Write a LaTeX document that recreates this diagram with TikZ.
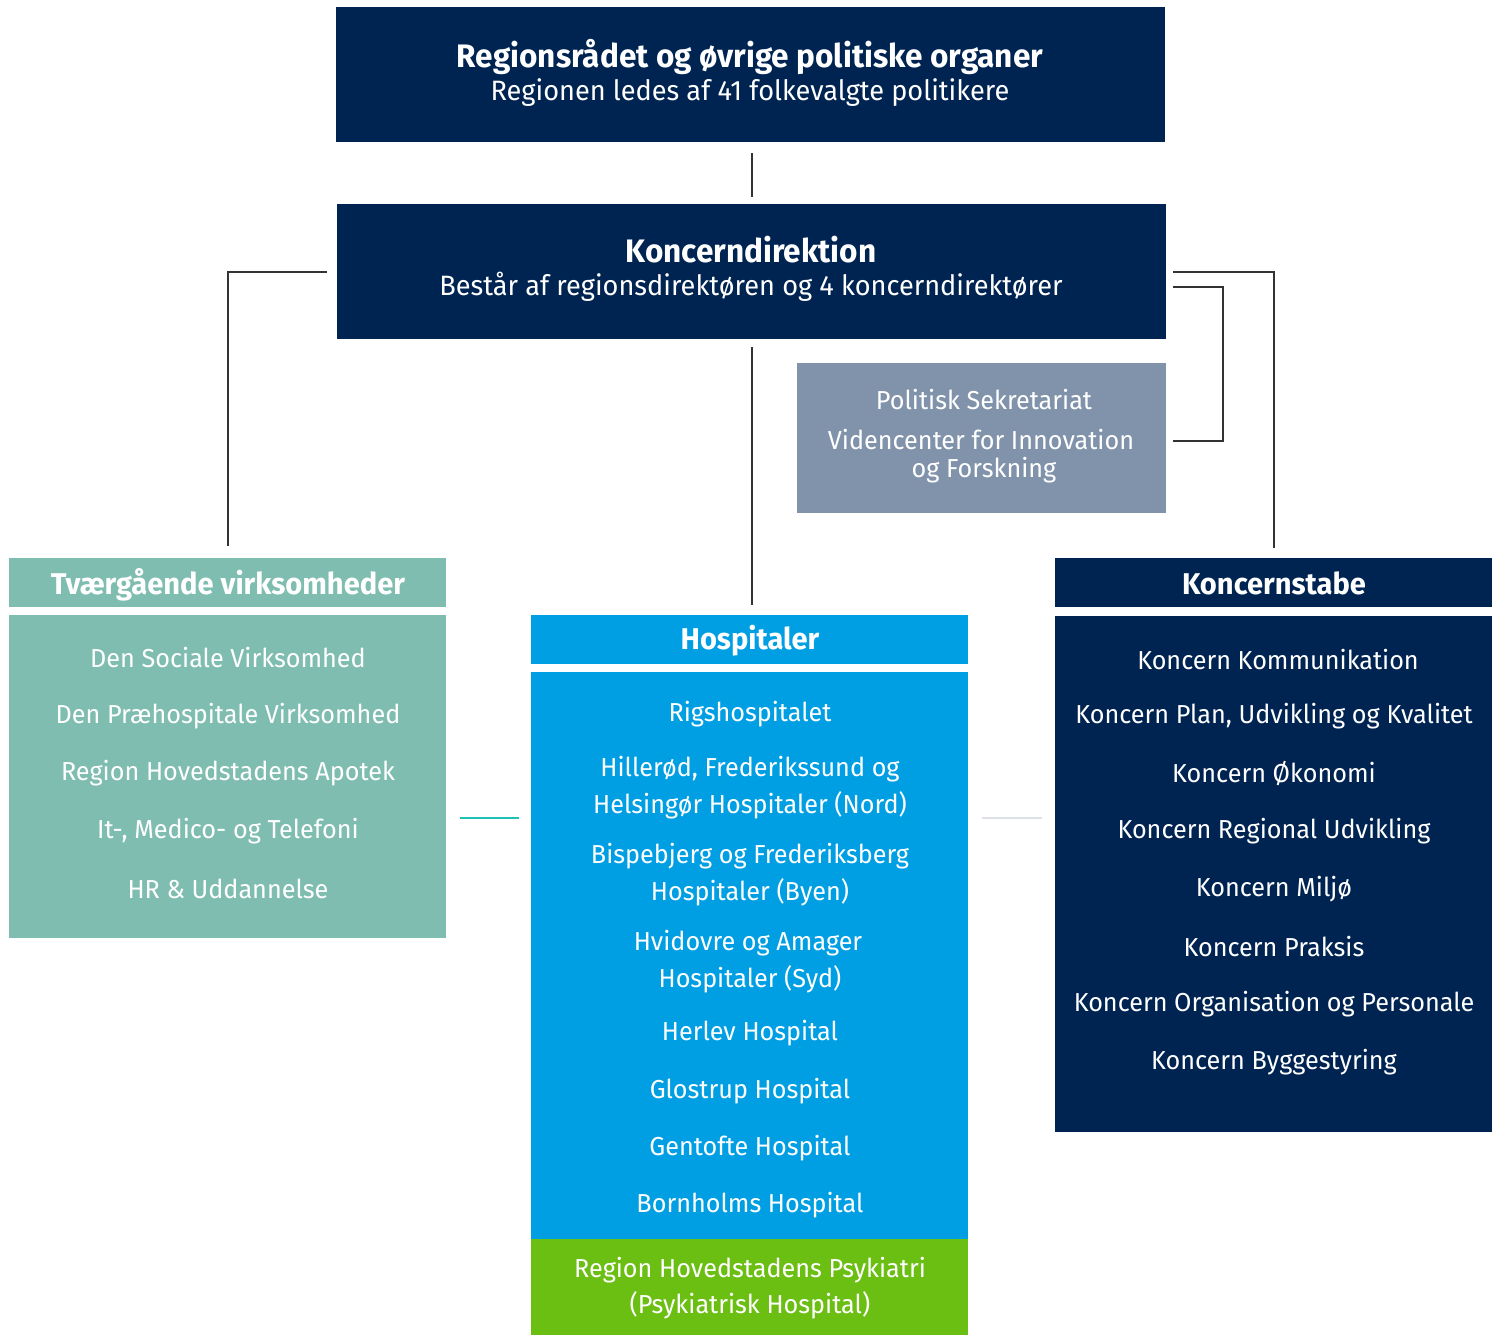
\documentclass[tikz,border=0pt]{standalone}
\usepackage{fontspec}
\setmainfont[FakeStretch=0.97]{Fira Sans}
\usetikzlibrary{calc}
\definecolor{navy}{HTML}{002452}
\definecolor{greyblue}{HTML}{8193AB}
\definecolor{tealbox}{HTML}{80BDB1}
\definecolor{hospblue}{HTML}{009FE3}
\definecolor{psykgreen}{HTML}{6BBE12}
\definecolor{tealline}{HTML}{1EC2B2}
\definecolor{paleline}{HTML}{DDE1E6}
\tikzset{
  box/.style={rectangle, inner sep=0pt, minimum width=437, minimum height=49},
  txt/.style={text=white, inner sep=0pt, font=\fontsize{26}{30}\selectfont},
  sub/.style={text=white, inner sep=0pt, font=\fontsize{28}{32}\selectfont},
  bold/.style={text=white, inner sep=0pt, font=\fontsize{32.5}{36}\selectfont\bfseries},
  hdr/.style={text=white, inner sep=0pt, font=\fontsize{30}{34}\selectfont\bfseries},
  conn/.style={draw=black!80, line width=2pt}
}
\begin{document}
\begin{tikzpicture}[x=1pt, y=-1pt]
  \useasboundingbox (0,0) rectangle (1496,1335);

  % top levels
  \node[box, fill=navy, minimum width=829, minimum height=135] (top) at (750.5,74.5) {};
  \node[bold] (topt) at (750,57) {Regionsrådet og øvrige politiske organer};
  \node[sub] (tops) at (750,93) {Regionen ledes af 41 folkevalgte politikere};

  \node[box, fill=navy, minimum width=829, minimum height=135] (kd) at (751.5,271.5) {};
  \node[bold] (kdt) at (751,250) {Koncerndirektion};
  \node[sub] (kds) at (751,287) {Består af regionsdirektøren og 4 koncerndirektører};

  \node[box, fill=greyblue, minimum width=369, minimum height=150] (ps) at (981.5,438) {};
  \node[txt] (ps1) at (984,400) {Politisk Sekretariat};
  \node[txt] (ps2) at (981,440) {Videncenter for Innovation};
  \node[txt] (ps3) at (984,470) {og Forskning};

  % left column
  \node[box, fill=tealbox] (tv) at (227.5,582.5) {};
  \node[hdr] (tvt) at (228,585) {Tværgående virksomheder};
  \node[box, fill=tealbox, minimum height=323] (tvb) at (227.5,776.5) {};
  \node[txt] (tv1) at (228,658) {Den Sociale Virksomhed};
  \node[txt] (tv2) at (228,716) {Den Præhospitale Virksomhed};
  \node[txt] (tv3) at (228,773) {Region Hovedstadens Apotek};
  \node[txt] (tv4) at (228,831) {It-, Medico- og Telefoni};
  \node[txt] (tv5) at (228,889) {HR \& Uddannelse};

  % middle column
  \node[box, fill=hospblue] (hh) at (749.5,639.5) {};
  \node[hdr] (hht) at (750,641) {Hospitaler};
  \node[box, fill=hospblue, minimum height=567] (hb) at (749.5,955) {};
  \node[txt] (h1) at (750,714) {Rigshospitalet};
  \node[txt] (h2) at (750,769) {Hillerød, Frederikssund og};
  \node[txt] (h2b) at (750,805) {Helsingør Hospitaler (Nord)};
  \node[txt] (h3) at (750,856) {Bispebjerg og Frederiksberg};
  \node[txt] (h3b) at (750,892) {Hospitaler (Byen)};
  \node[txt] (h4) at (748,943) {Hvidovre og Amager};
  \node[txt] (h4b) at (750,979) {Hospitaler (Syd)};
  \node[txt] (h5) at (750,1033) {Herlev Hospital};
  \node[txt] (h6) at (750,1091) {Glostrup Hospital};
  \node[txt] (h7) at (750,1148) {Gentofte Hospital};
  \node[txt] (h8) at (750,1205) {Bornholms Hospital};
  \node[box, fill=psykgreen, minimum height=96] (pk) at (749.5,1286.5) {};
  \node[txt] (pk1) at (750,1270) {Region Hovedstadens Psykiatri};
  \node[txt] (pk2) at (750,1305) {(Psykiatrisk Hospital)};

  % right column
  \node[box, fill=navy] (ks) at (1273.5,582.5) {};
  \node[hdr] (kst) at (1274,583) {Koncernstabe};
  \node[box, fill=navy, minimum height=516] (ksb) at (1273.5,874) {};
  \node[txt] (k1) at (1278,660) {Koncern Kommunikation};
  \node[txt] (k2) at (1274,716) {Koncern Plan, Udvikling og Kvalitet};
  \node[txt] (k3) at (1274,773) {Koncern Økonomi};
  \node[txt] (k4) at (1274,831) {Koncern Regional Udvikling};
  \node[txt] (k5) at (1274,889) {Koncern Miljø};
  \node[txt] (k6) at (1274,947) {Koncern Praksis};
  \node[txt] (k7) at (1274,1004) {Koncern Organisation og Personale};
  \node[txt] (k8) at (1274,1062) {Koncern Byggestyring};

  % connectors
  \draw[conn, shorten <=11pt, shorten >=7pt] ([xshift=1.5pt]top.south) -- ([xshift=0.5pt]kd.north);
  \draw[conn, shorten <=8pt, shorten >=10pt] (kd.south) -- ([xshift=2pt]hh.north);
  \draw[conn, shorten <=10pt, shorten >=12pt] (kd.west) -| (tv.north);
  \draw[conn, shorten <=7pt, shorten >=10pt] (kd.east) -| (ks.north);
  \draw[conn, shorten <=7pt, shorten >=7pt] ($(kd.east)+(0,15)$) -- ++(57,0) |- ($(ps.east)+(0,3)$);
  \coordinate (mid) at (750,818);
  \draw[tealline, line width=2pt, shorten <=14pt, shorten >=12pt] (tvb.east |- mid) -- (hb.west |- mid);
  \draw[paleline, line width=2pt, shorten <=14pt, shorten >=13pt] (hb.east |- mid) -- (ksb.west |- mid);
\end{tikzpicture}
\end{document}
